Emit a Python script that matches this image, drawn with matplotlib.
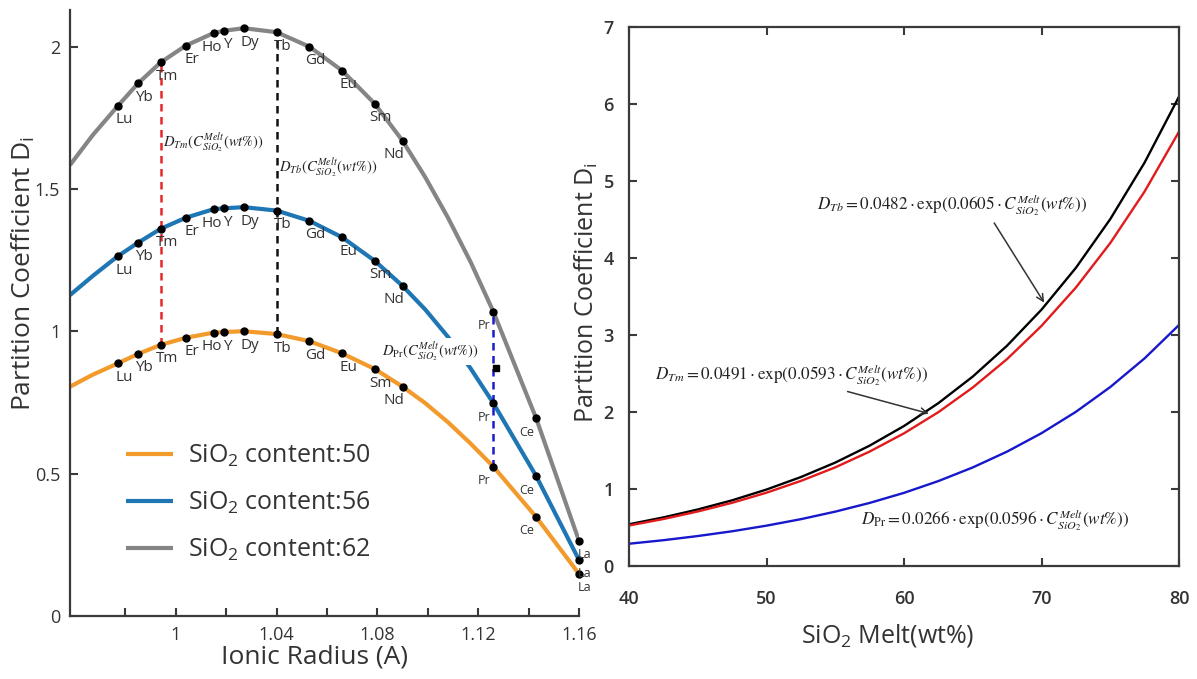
import numpy as np
import matplotlib
matplotlib.use('Agg')
import matplotlib.pyplot as plt

plt.rcParams['font.family'] = ['Open Sans', 'DejaVu Sans']
plt.rcParams['mathtext.fontset'] = 'custom'
plt.rcParams['mathtext.rm'] = 'Open Sans'
plt.rcParams['mathtext.it'] = 'Open Sans:italic'
plt.rcParams['mathtext.bf'] = 'Open Sans:bold'

# ---- left panel data: lattice strain curves ----
elements = ['Lu', 'Yb', 'Tm', 'Er', 'Ho', 'Y', 'Dy', 'Tb', 'Gd', 'Eu', 'Sm', 'Nd', 'Pr', 'Ce', 'La']
radius = [0.977, 0.985, 0.994, 1.004, 1.015, 1.019, 1.027, 1.040, 1.053, 1.066, 1.079, 1.090, 1.126, 1.143, 1.160]

# curve samples (element radii plus a few extra read points)
curve_r = [0.958, 0.967, 0.977, 0.985, 0.994, 1.004, 1.015, 1.019, 1.027, 1.040,
           1.053, 1.066, 1.079, 1.090, 1.099, 1.108, 1.117, 1.126, 1.143, 1.160]
curve_si50 = [0.806, 0.848, 0.888, 0.921, 0.953, 0.978, 0.996, 0.998, 1.001, 0.991,
              0.966, 0.923, 0.868, 0.806, 0.748, 0.681, 0.606, 0.525, 0.348, 0.148]
curve_si56 = [1.128, 1.195, 1.265, 1.312, 1.361, 1.400, 1.430, 1.433, 1.437, 1.425,
              1.389, 1.331, 1.248, 1.160, 1.077, 0.981, 0.870, 0.748, 0.492, 0.197]
curve_si62 = [1.585, 1.690, 1.793, 1.872, 1.946, 2.005, 2.049, 2.057, 2.066, 2.052,
              2.001, 1.917, 1.800, 1.670, 1.542, 1.400, 1.244, 1.070, 0.695, 0.264]
series_labels = ['SiO$_2$ content:50', 'SiO$_2$ content:56', 'SiO$_2$ content:62']

# ---- right panel data: D vs SiO2 melt ----
sio2_melt = [40, 42.5, 45, 47.5, 50, 52.5, 55, 57.5, 60, 62.5, 65, 67.5, 70, 72.5, 75, 77.5, 80]
d_tb = [0.542, 0.631, 0.734, 0.853, 0.993, 1.155, 1.343, 1.563, 1.818, 2.115, 2.460,
        2.862, 3.329, 3.872, 4.505, 5.240, 6.096]
d_tm = [0.526, 0.610, 0.708, 0.821, 0.952, 1.105, 1.281, 1.486, 1.723, 1.998, 2.318,
        2.688, 3.118, 3.616, 4.194, 4.864, 5.641]
d_pr = [0.289, 0.335, 0.389, 0.451, 0.524, 0.608, 0.706, 0.819, 0.950, 1.103, 1.280,
        1.486, 1.725, 2.002, 2.324, 2.697, 3.130]

c_orange = '#f29b2c'
c_blue = '#1f76b4'
c_gray = '#858585'
txt = '#333333'

fig = plt.figure(figsize=(11.97, 6.79), dpi=100)
ax1 = fig.add_axes([70 / 1197, 63 / 679, 509 / 1197, 606 / 679])
ax2 = fig.add_axes([629 / 1197, 113 / 679, 550 / 1197, 539 / 679])

# ---------------- left panel ----------------
curves = [curve_si50, curve_si56, curve_si62]
colors = [c_orange, c_blue, c_gray]
for vals, col, lab in zip(curves, colors, series_labels):
    ax1.plot(curve_r, vals, color=col, lw=3, label=lab, zorder=2, solid_capstyle='butt')

dot_idx = [curve_r.index(r) for r in radius]
small = ['Pr', 'Ce', 'La']
left_shift = ['Nd', 'Pr', 'Ce']
for vals in curves:
    dots = [vals[i] for i in dot_idx]
    ax1.plot(radius, dots, 'o', color='k', ms=5, zorder=5, clip_on=False)
    for el, r, d in zip(elements, radius, dots):
        dx = 6
        if el in left_shift:
            dx = -9
        if el == 'Ho':
            dx = -2
        if el == 'Y':
            dx = 4
        ax1.annotate(el, (r, d), xytext=(dx, -14), textcoords='offset pixels',
                     ha='center', va='center', color=txt,
                     fontsize=9 if el in small else 11, zorder=6)

# dashed guide lines at Tm, Tb, Pr
for el, col in zip(['Tm', 'Tb', 'Pr'], ['#e8262a', '#111111', '#1c1ccc']):
    i = curve_r.index(radius[elements.index(el)])
    ax1.plot([curve_r[i], curve_r[i]], [curve_si50[i], curve_si62[i]], '--',
             color=col, lw=1.8, dashes=(3, 2.2), zorder=4)

eq_kw = dict(math_fontfamily='stix', color='#222222', fontsize=10.5)
ax1.text(0.995, 1.665, r'$D_{Tm}(C_{SiO_2}^{Melt}(wt\%))$', va='center', ha='left', **eq_kw)
ax1.text(1.041, 1.577, r'$D_{Tb}(C_{SiO_2}^{Melt}(wt\%))$', va='center', ha='left', **eq_kw)
ax1.text(1.082, 0.93, r'$D_{\mathrm{Pr}}(C_{SiO_2}^{Melt}(wt\%))$', va='center', ha='left',
         bbox=dict(facecolor='white', edgecolor='none', pad=1.5), zorder=3, **eq_kw)
ax1.plot([1.127], [0.872], 's', color='k', ms=5, zorder=6)

ax1.set_xlim(0.958, 1.16)
ax1.set_ylim(0, 2.13)
xt = [0.98, 1.00, 1.02, 1.04, 1.06, 1.08, 1.10, 1.12, 1.14, 1.16]
xt_lab = ['', '1', '', '1.04', '', '1.08', '', '1.12', '', '1.16']
ax1.set_xticks(xt)
ax1.set_xticklabels(xt_lab)
yt = [0, 0.5, 1, 1.5, 2]
ax1.set_yticks(yt)
ax1.set_yticklabels(['0', '0.5', '1', '1.5', '2'])
ax1.spines['top'].set_visible(False)
ax1.spines['right'].set_visible(False)
for s in ['left', 'bottom']:
    ax1.spines[s].set_linewidth(1.6)
    ax1.spines[s].set_color('#3a3a3a')
ax1.tick_params(direction='in', length=6, width=1.5, color='#3a3a3a',
                labelcolor=txt, labelsize=13, pad=7)
ax1.set_xlabel('Ionic Radius (A)', fontsize=19, color=txt)
ax1.set_ylabel('Partition Coefficient D$_\\mathrm{i}$', fontsize=19, color=txt)
ax1.xaxis.set_label_coords(0.48, -0.047)
ax1.yaxis.set_label_coords(-0.064, 0.565)

leg = ax1.legend(loc='upper left', bbox_to_anchor=(0.09, 0.302), frameon=False,
                 fontsize=18, handlelength=1.9, handletextpad=0.6, labelspacing=0.82,
                 borderaxespad=0)
for t in leg.get_texts():
    t.set_color(txt)

# ---------------- right panel ----------------
ax2.plot(sio2_melt, d_tb, color='#000000', lw=1.7)
ax2.plot(sio2_melt, d_tm, color='#e11b1b', lw=1.7)
ax2.plot(sio2_melt, d_pr, color='#1717cc', lw=1.7)

eq_kw2 = dict(math_fontfamily='stix', color='#222222', fontsize=12.3)
arrow = dict(arrowstyle='->', color='#333333', lw=1.1)
ax2.annotate(r'$D_{Tb} = 0.0482\cdot\exp(0.0605\cdot C_{SiO_2}^{Melt}(wt\%))$',
             xy=(70.3, 3.39), xytext=(53.7, 4.69), va='center', ha='left',
             arrowprops=dict(arrow, relpos=(0.63, 0.2)), **eq_kw2)
ax2.annotate(r'$D_{Tm} = 0.0491\cdot\exp(0.0593\cdot C_{SiO_2}^{Melt}(wt\%))$',
             xy=(62.0, 1.97), xytext=(41.9, 2.48), va='center', ha='left',
             arrowprops=dict(arrow, relpos=(0.64, 0.05)), **eq_kw2)
ax2.text(56.9, 0.60, r'$D_{\mathrm{Pr}} = 0.0266\cdot\exp(0.0596\cdot C_{SiO_2}^{Melt}(wt\%))$',
         va='center', ha='left', **eq_kw2)

ax2.set_xlim(40, 80)
ax2.set_ylim(0, 7)
ax2.set_xticks([40, 50, 60, 70, 80])
ax2.set_yticks([0, 1, 2, 3, 4, 5, 6, 7])
for s in ax2.spines.values():
    s.set_linewidth(1.6)
    s.set_color('#3a3a3a')
ax2.tick_params(direction='in', length=6, width=1.5, color='#3a3a3a', top=True, right=True,
                labelcolor=txt, labelsize=13)
ax2.tick_params(axis='x', pad=17)
ax2.tick_params(axis='y', pad=11)
for lab in ax2.get_xticklabels() + ax2.get_yticklabels():
    lab.set_fontweight('semibold')
ax2.set_xlabel('SiO$_2$ Melt(wt%)', fontsize=18, color=txt)
ax2.set_ylabel('Partition Coefficient D$_\\mathrm{i}$', fontsize=18, color=txt)
ax2.xaxis.set_label_coords(0.47, -0.104)
ax2.yaxis.set_label_coords(-0.052, 0.508)

fig.savefig('out.png', dpi=100)
